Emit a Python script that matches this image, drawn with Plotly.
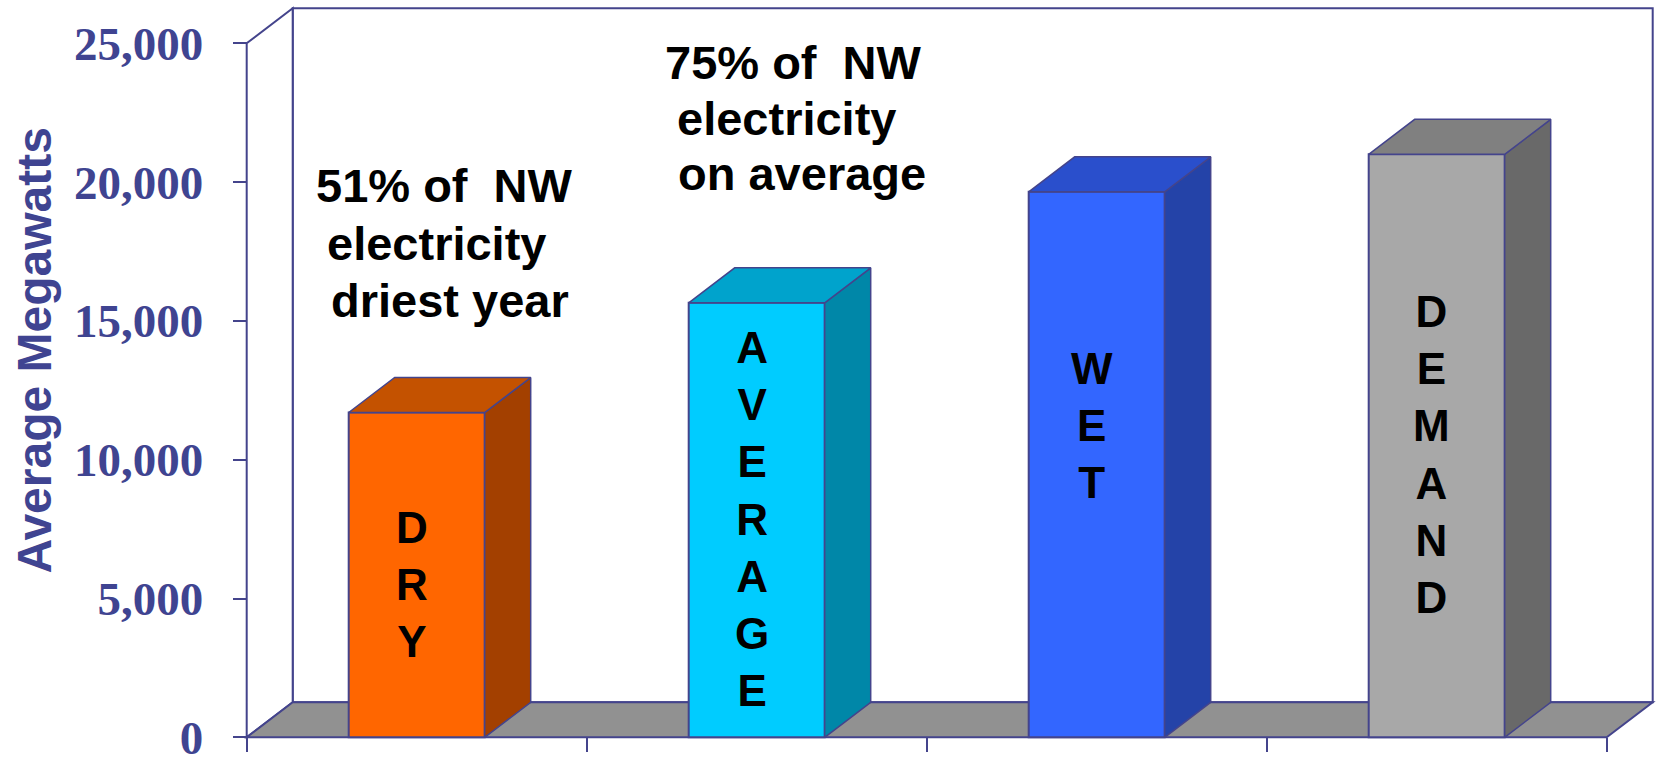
import plotly.graph_objects as go

# ---------------- data ----------------
categories = ["DRY", "AVERAGE", "WET", "DEMAND"]
megawatts = [11700, 15650, 19650, 21000]
front_colors = ["#FF6600", "#00CCFF", "#3366FF", "#A8A8A8"]
side_colors = ["#A34000", "#0087A8", "#2443A8", "#696969"]
top_colors = ["#C45200", "#00A3CC", "#2A4FCC", "#808080"]
y_ticks = [0, 5000, 10000, 15000, 20000, 25000]
y_tick_labels = ["0", "5,000", "10,000", "15,000", "20,000", "25,000"]
y_title = "Average Megawatts"
note_dry = ["51% of\u00a0 NW", "electricity", "driest year"]
note_avg = ["75% of\u00a0 NW", "electricity", "on average"]

# ---------------- geometry (pixels) ----------------
W, H = 1661, 757
ML, MR, MT, MB = 200, 2, 2, 2
PW, PH = W - ML - MR, H - MT - MB
AX_X = 246.7          # front vertical axis
CAT_PX = 340.0        # width of one category
ZERO_PY = 737.3       # y=0 on front axis
Y_PER_PX = 25000 / 694.0
DEPTH_PX = (46.0, 35.0)
NAVY = "#44448C"
TXT = "#3F4491"


def x_of(px):
    return (px - AX_X) / CAT_PX


def y_of(py):
    return (ZERO_PY - py) * Y_PER_PX


dx = DEPTH_PX[0] / CAT_PX
dy = DEPTH_PX[1] * Y_PER_PX
ncat = len(categories)
ymax = y_ticks[-1]

fig = go.Figure()

# front faces
xc = [i + 0.5 for i in range(ncat)]
bw = 0.4
fig.add_trace(go.Bar(
    x=xc, y=megawatts, width=bw,
    marker=dict(color=front_colors, line=dict(color=NAVY, width=2)),
    hoverinfo="skip", showlegend=False,
))

# side and top faces
for i, v in enumerate(megawatts):
    c = xc[i]
    l, r = c - bw / 2, c + bw / 2
    fig.add_trace(go.Scatter(
        x=[r, r + dx, r + dx, r, r], y=[0, dy, v + dy, v, 0],
        mode="lines", fill="toself", fillcolor=side_colors[i],
        line=dict(color=NAVY, width=1.5), hoverinfo="skip", showlegend=False))
    fig.add_trace(go.Scatter(
        x=[l, r, r + dx, l + dx, l], y=[v, v, v + dy, v + dy, v],
        mode="lines", fill="toself", fillcolor=top_colors[i],
        line=dict(color=NAVY, width=1.5), hoverinfo="skip", showlegend=False))

# walls and floor
shapes = [
    dict(type="rect", xref="x", yref="y", x0=dx, x1=ncat + dx, y0=dy, y1=ymax + dy,
         fillcolor="white", line=dict(color=NAVY, width=2), layer="below"),
    dict(type="path", xref="x", yref="y",
         path=f"M 0,0 L {dx},{dy} L {dx},{ymax + dy} L 0,{ymax} Z",
         fillcolor="white", line=dict(color=NAVY, width=2), layer="below"),
    dict(type="path", xref="x", yref="y",
         path=f"M 0,0 L {ncat},0 L {ncat + dx},{dy} L {dx},{dy} Z",
         fillcolor="#919191", line=dict(color=NAVY, width=2), layer="below"),
]

annotations = []
# letters inside bars
label_center_py = [584, 519, 425, 454]
for i, cat in enumerate(categories):
    annotations.append(dict(
        x=xc[i], y=y_of(label_center_py[i]), xref="x", yref="y",
        text="<br>".join(list(cat)), showarrow=False, xshift=-5,
        xanchor="center", yanchor="middle",
        font=dict(family="Arial, Liberation Sans", size=44, color="black", weight="bold")))

# notes above bars
note_pos = [
    (note_dry, [(444.5, 185), (436.5, 243), (450, 300)]),
    (note_avg, [(793.5, 62), (786.5, 118), (802, 173)]),
]
for lines, pos in note_pos:
    for txt, (px, py) in zip(lines, pos):
        annotations.append(dict(
            x=x_of(px), y=y_of(py), xref="x", yref="y", text=txt, showarrow=False,
            xanchor="center", yanchor="middle",
            font=dict(family="Arial, Liberation Sans", size=47, color="black", weight="bold")))

# y-axis title
annotations.append(dict(
    x=(33.5 - ML) / PW, y=(H - MB - 351) / PH, xref="paper", yref="paper",
    text=y_title, textangle=-90, showarrow=False, xanchor="center", yanchor="middle",
    font=dict(family="Arial, Liberation Sans", size=48, color=TXT, weight="bold")))

fig.update_layout(
    width=W, height=H,
    margin=dict(l=ML, r=MR, t=MT, b=MB, pad=0, autoexpand=False),
    paper_bgcolor="white", plot_bgcolor="white",
    shapes=shapes, annotations=annotations, showlegend=False,
    xaxis=dict(range=[x_of(ML), x_of(W - MR)], anchor="free",
               position=(H - MB - ZERO_PY) / PH, automargin=False,
               tickmode="array", tickvals=list(range(ncat + 1)),
               showticklabels=False, ticks="outside", ticklen=14, tickwidth=2,
               tickcolor=NAVY, showgrid=False, zeroline=False, showline=False,
               fixedrange=True),
    yaxis=dict(range=[y_of(H - MB), y_of(MT)], anchor="free",
               position=(AX_X - ML) / PW, automargin=False,
               tickmode="array", tickvals=y_ticks, ticktext=y_tick_labels,
               ticks="outside", ticklen=14, tickwidth=2, tickcolor=NAVY,
               ticklabelstandoff=20, ticklabeloverflow="allow",
               tickfont=dict(family="Liberation Serif, Times New Roman", size=47,
                             color=TXT, weight="bold"),
               showgrid=False, zeroline=False, showline=False, fixedrange=True),
)

fig.write_html("out.html")
